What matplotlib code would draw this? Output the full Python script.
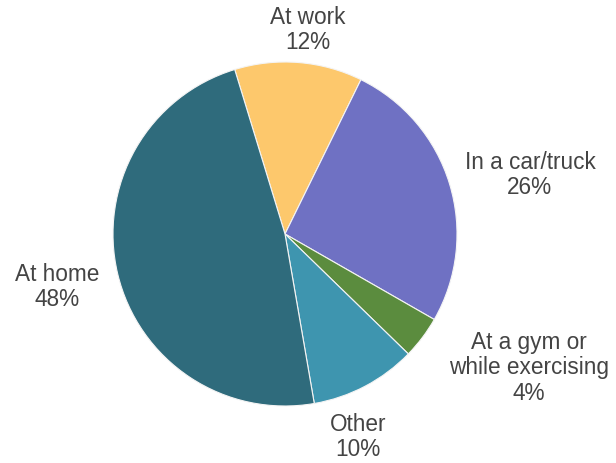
import matplotlib.pyplot as plt

plt.rcParams['font.family'] = ['Liberation Sans', 'DejaVu Sans']

labels = ["At work", "In a car/truck", "At a gym or\nwhile exercising", "Other", "At home"]
shares = [12, 26, 4, 10, 48]
colors = ["#FDC86C", "#6F71C3", "#5B8C3E", "#3E95AF", "#2F6B7C"]

# where each label sits (data coords, radius = 1)
label_pos = [(0.134, 1.186), (1.424, 0.343), (1.419, -0.779), (0.424, -1.180), (-1.326, -0.308)]

fig = plt.figure(figsize=(6.16, 4.63), dpi=100)
ax = fig.add_axes([113 / 616, 57 / 463, 344 / 616, 344 / 463])

wedges, _ = ax.pie(shares, colors=colors, startangle=107, counterclock=False,
                   wedgeprops=dict(edgecolor="#f4f4f4", linewidth=0.8))
ax.set_xlim(-1, 1)
ax.set_ylim(-1, 1)
ax.set_aspect("equal")

for lab, val, (x, y) in zip(labels, shares, label_pos):
    ax.text(x, y, f"{lab}\n{val}%", ha="center", va="center", multialignment="center",
            fontsize=16.3, color="#444444", linespacing=1.15, clip_on=False)

fig.savefig("out.png", dpi=100)
